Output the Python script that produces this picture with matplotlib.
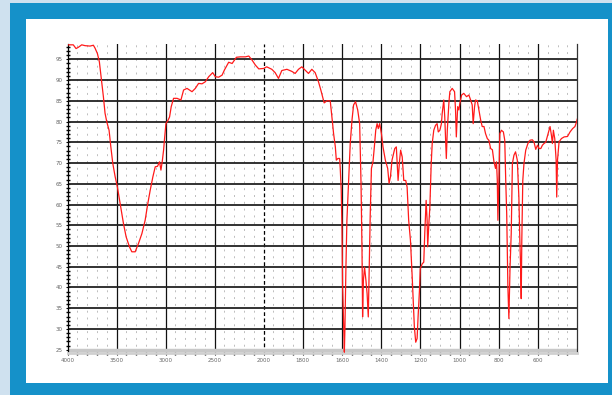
import numpy as np
import matplotlib
matplotlib.use("Agg")
import matplotlib.pyplot as plt
from matplotlib.patches import Rectangle

# ---- data (wavenumber cm-1, %T) ----
wavenumber = [4000, 3941, 3913, 3890, 3855, 3821, 3770, 3736, 3719, 3695, 3675, 3661, 3650, 3634,
              3617, 3599, 3576, 3558, 3538, 3514, 3491, 3463, 3429, 3402, 3368, 3344, 3310, 3276,
              3241, 3208, 3184, 3156, 3129, 3105, 3082, 3061, 3047, 3034, 3020, 3010, 2996, 2975,
              2959, 2942, 2918, 2883, 2843, 2816, 2781, 2730, 2696, 2663, 2628, 2594, 2560, 2519,
              2492, 2458, 2423, 2400, 2356, 2321, 2277, 2236, 2185, 2151, 2117, 2083, 2049, 2000,
              1984, 1958, 1941, 1924, 1907, 1881, 1856, 1839, 1822, 1805, 1788, 1771, 1754, 1737,
              1720, 1708, 1697, 1691, 1677, 1660, 1655, 1648, 1643, 1634, 1629, 1621, 1612, 1609,
              1604, 1600, 1597, 1594, 1588, 1585, 1580, 1575, 1566, 1558, 1549, 1541, 1531, 1520,
              1510, 1503, 1498, 1495, 1491, 1485, 1478, 1472, 1466, 1461, 1456, 1450, 1442, 1435,
              1428, 1421, 1415, 1408, 1399, 1391, 1379, 1367, 1360, 1353, 1345, 1331, 1323, 1314,
              1307, 1301, 1293, 1285, 1275, 1268, 1260, 1251, 1242, 1237, 1231, 1224, 1217, 1212,
              1205, 1201, 1191, 1183, 1178, 1171, 1166, 1163, 1157, 1152, 1145, 1140, 1132, 1123,
              1115, 1109, 1101, 1093, 1089, 1081, 1076, 1068, 1063, 1055, 1050, 1038, 1026, 1021,
              1017, 1010, 1004, 999, 990, 979, 965, 953, 944, 936, 931, 924, 919, 910, 902, 893,
              885, 876, 868, 859, 851, 842, 833, 825, 817, 812, 808, 805, 800, 795, 787, 777, 770,
              765, 760, 757, 754, 749, 743, 737, 731, 723, 715, 706, 698, 693, 689, 686, 683, 678,
              672, 663, 652, 641, 629, 621, 612, 603, 595, 586, 578, 570, 561, 549, 539, 532, 527,
              522, 515, 508, 505, 501, 493, 481, 467, 450, 437, 424, 412, 404, 400]
transmittance = [98.5, 98.5, 97.6, 97.9, 98.5, 98.3, 98.2, 98.4, 97.7, 96.4, 94.4, 91.6, 89.2, 86.0,
                 82.0, 79.9, 77.9, 73.9, 69.9, 66.7, 64.2, 60.2, 55.4, 52.2, 49.8, 48.6, 48.6, 50.6,
                 53.0, 56.2, 59.8, 63.5, 66.7, 69.1, 69.2, 70.3, 68.3, 70.3, 73.1, 75.9, 79.5, 80.3,
                 81.1, 83.6, 85.6, 85.6, 85.2, 87.6, 88.0, 87.2, 88.0, 89.2, 89.1, 89.6, 90.8, 91.8,
                 90.8, 90.7, 91.2, 92.4, 94.3, 94.0, 95.5, 95.6, 95.6, 95.8, 94.8, 93.6, 92.7, 92.8,
                 93.2, 92.6, 91.8, 90.4, 92.3, 92.6, 92.1, 91.6, 92.6, 93.2, 92.4, 91.6, 92.6, 91.8,
                 89.6, 87.6, 85.6, 84.5, 85.0, 85.0, 82.8, 79.5, 77.1, 73.9, 70.7, 71.1, 71.1, 68.7,
                 63.5, 53.8, 40.1, 35.3, 24.4, 30.5, 44.9, 56.2, 65.8, 74.7, 80.4, 84.0, 84.8, 82.8,
                 79.5, 65.1, 49.0, 32.9, 41.7, 44.9, 41.7, 38.5, 32.9, 44.9, 57.7, 68.7, 70.3, 73.9,
                 77.9, 79.5, 78.3, 79.5, 77.1, 73.9, 70.7, 68.7, 65.1, 66.7, 70.7, 73.5, 73.9, 65.8,
                 70.3, 73.1, 71.5, 65.8, 65.8, 64.2, 56.2, 51.4, 42.5, 36.9, 30.5, 26.8, 27.7, 32.9,
                 39.3, 44.5, 45.7, 46.1, 53.0, 61.0, 56.2, 49.8, 55.4, 59.4, 69.9, 74.7, 77.9, 79.1,
                 79.5, 77.5, 77.9, 79.5, 82.0, 85.2, 81.1, 71.1, 77.9, 84.4, 87.2, 88.0, 87.2, 82.8,
                 76.3, 83.6, 82.8, 84.4, 86.4, 86.8, 86.0, 86.4, 85.2, 84.0, 79.5, 83.6, 85.2, 85.0, 82.8, 80.4,
                 78.8, 78.8, 77.1, 75.9, 75.5, 73.5, 73.2, 70.3, 68.7, 70.3, 65.8, 56.2, 65.8, 77.1, 77.9, 77.5, 75.5,
                 65.8, 57.7, 49.0, 40.1, 32.5, 44.9, 53.0, 69.9, 71.9, 72.7, 70.7, 61.8, 51.4, 44.9, 37.3, 51.4, 65.8,
                 69.9, 73.1, 74.7, 75.5, 75.6, 75.1, 73.3, 74.3, 73.5, 73.5, 74.3, 74.7, 75.0, 77.1, 78.8, 76.7, 74.7,
                 77.9, 75.9, 70.7, 61.8, 70.7, 75.1, 75.9, 76.3, 76.4, 77.5, 78.3, 78.8, 79.9, 80.6]

y_ticks = [25, 30, 35, 40, 45, 50, 55, 60, 65, 70, 75, 80, 85, 90, 95]
x_major = [4000, 3500, 3000, 2500, 2000, 1800, 1600, 1400, 1200, 1000, 800, 600]
x_labels = ["4000", "3500", "3000", "2500", "2000", "1800", "1600", "1400", "1200", "1000", "800", "600"]


def fwd(w):
    # piecewise-linear wavenumber scale: region below 2000 cm-1 expanded 2x
    w = np.asarray(w, dtype=float)
    return np.where(w >= 2000, w - 2000, 2 * (w - 2000))


def inv(u):
    u = np.asarray(u, dtype=float)
    return np.where(u >= 0, u + 2000, 2000 + u / 2)


fig = plt.figure(figsize=(6.12, 3.95), dpi=100)
fig.patch.set_facecolor("#cfe1ef")
# blue frame and white panel
fig.add_artist(Rectangle((10 / 612, 0), 602 / 612, 392 / 395, transform=fig.transFigure,
                         facecolor="#1591c9", edgecolor="none", zorder=-2))
fig.add_artist(Rectangle((26 / 612, 12 / 395), 582 / 612, 364 / 395, transform=fig.transFigure,
                         facecolor="white", edgecolor="none", zorder=-1))

ax = fig.add_axes([67.5 / 612, 1 - 353 / 395, (577.3 - 67.5) / 612, (353 - 44) / 395])
ax.set_zorder(5)
ax.set_facecolor("none")
ax.set_xscale("function", functions=(fwd, inv))
ax.set_xlim(4000, 400)
ax.set_ylim(24.2, 98.7)

# minor dotted vertical grid
minor_x = [w for w in range(3900, 2000, -100) if w % 500 != 0] + \
          [w for w in range(1950, 400, -50) if w % 200 != 0]
for w in minor_x:
    ax.axvline(w, color="#bdbdbd", lw=0.7, ls=(0, (2, 5)), zorder=1)
# major vertical grid
for w in x_major[1:]:
    if w == 2000:
        ax.axvline(w, color="black", lw=0.9, ls=(0, (3, 2)), zorder=2)
    else:
        ax.axvline(w, color="#111111", lw=0.9, zorder=2)
# horizontal grid
for v in y_ticks:
    col = "#c8c8c8" if v == 25 else "#222222"
    ax.axhline(v, color=col, lw=1.3 if v != 25 else 2.5, zorder=2)

ax.plot(wavenumber, transmittance, color="#ff1a1a", lw=0.9, zorder=3)

ax.set_yticks(y_ticks)
ax.set_yticks(np.arange(25, 99, 1), minor=True)
ax.set_xticks(x_major)
ax.set_xticklabels(x_labels)
ax.set_xticks(minor_x, minor=True)
ax.tick_params(axis="both", which="major", labelsize=4, labelcolor="#666666", color="black",
               length=3, width=0.8, direction="inout", pad=2)
ax.tick_params(axis="both", which="minor", length=2.5, width=1.0, color="black", direction="inout")
ax.spines["top"].set_visible(False)
ax.spines["bottom"].set_color("#d0d0d0")
ax.spines["bottom"].set_linewidth(2)
ax.spines["left"].set_color("black")
ax.spines["left"].set_linewidth(0.9)
ax.spines["right"].set_color("#333333")
ax.spines["right"].set_linewidth(0.9)

fig.savefig("out.png", dpi=100)
